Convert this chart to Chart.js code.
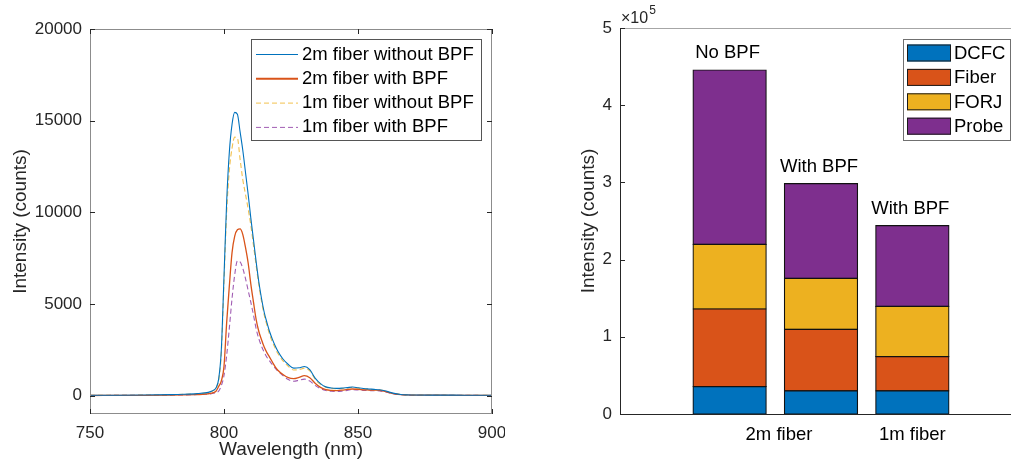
<!DOCTYPE html>
<html>
<head>
<meta charset="utf-8">
<script src="https://cdn.jsdelivr.net/npm/chart.js@4.4.1/dist/chart.umd.min.js"></script>
<style>
  html, body { margin: 0; padding: 0; background: #ffffff; }
  body { width: 1011px; height: 463px; position: relative; overflow: hidden; }
  #spectrumBox { position: absolute; left: 0; top: 0; width: 505px; height: 463px; }
  #stackBox { position: absolute; left: 560px; top: 0; width: 451px; height: 463px; }
</style>
</head>
<body>
<div id="spectrumBox"><canvas id="spectrumGraph" width="505" height="463"></canvas></div>
<div id="stackBox"><canvas id="stackGraph" width="451" height="463"></canvas></div>
<script>
// ---- left panel: emission spectra ----
const wavelengths = [750, 760, 770, 780, 785, 790, 793, 795, 796, 797, 798, 799,
    800, 801, 802, 803, 804, 805, 806, 807, 808, 809, 810, 811, 812, 813, 814, 815, 816, 817, 818, 819, 820,
    822, 824, 826, 828, 830, 832, 834, 836, 838, 840, 842, 844, 846, 848, 850, 852, 854, 856, 858, 860, 862, 864, 866, 868, 870,
    880, 890, 900];
const fiber2mNoBpf = [20, 25, 35, 55, 75, 110, 150, 220, 290, 420, 900, 2500,
    6500, 10600, 13300, 14800, 15450, 15350, 14400, 13400, 12200, 11000, 9700, 8500, 7300, 6200, 5300, 4550, 4000, 3500, 3100, 2750, 2450,
    2000, 1700, 1500, 1520, 1590, 1420, 960, 660, 480, 420, 400, 410, 440, 470, 430, 390, 365, 345, 320, 270, 180, 110, 65, 45, 38,
    30, 25, 20];
const fiber2mBpf = [10, 15, 20, 30, 40, 60, 80, 120, 170, 240, 500, 800,
    1600, 4000, 6000, 7800, 8700, 9050, 9100, 8800, 8100, 7250, 6100, 5100, 4150, 3500, 3050, 2650, 2350, 2100, 1850, 1600, 1400,
    1150, 980, 930, 1000, 1090, 980, 680, 450, 330, 290, 280, 300, 340, 365, 340, 320, 310, 300, 290, 230, 150, 90, 55, 40, 30,
    25, 20, 15];
const fiber1mNoBpf = [18, 22, 30, 50, 70, 100, 140, 210, 280, 400, 850, 2300,
    6200, 10000, 12300, 13500, 14100, 14050, 12900, 11800, 11000, 10200, 9300, 8200, 7100, 6050, 5150, 4400, 3850, 3350, 2950, 2620, 2330,
    1900, 1600, 1400, 1420, 1500, 1350, 900, 620, 460, 400, 380, 390, 420, 450, 410, 370, 345, 330, 305, 255, 170, 105, 62, 43, 35,
    28, 23, 18];
const fiber1mBpf = [10, 15, 20, 30, 40, 60, 75, 100, 130, 160, 250, 550,
    1100, 2200, 3700, 5300, 6600, 7350, 7300, 6950, 6400, 5750, 5100, 4400, 3650, 3100, 2700, 2370, 2100, 1900, 1700, 1520, 1350,
    1100, 880, 790, 840, 900, 800, 560, 380, 280, 240, 230, 250, 290, 330, 310, 290, 280, 270, 260, 210, 140, 85, 50, 35, 25,
    20, 15, 12];
const spectrumLabels = ["2m fiber without BPF", "2m fiber with BPF", "1m fiber without BPF", "1m fiber with BPF"];
const wavelengthTicks = [750, 800, 850, 900];
const intensityTicks = [0, 5000, 10000, 15000, 20000];

// ---- right panel: stacked contributions ----
const barPositions = [1, 2, 3];
const barNotes = ["No BPF", "With BPF", "With BPF"];
const componentLabels = ["DCFC", "Fiber", "FORJ", "Probe"];
const dcfcCounts = [35400, 30000, 30000];
const fiberCounts = [100600, 79700, 44200];
const forjCounts = [83800, 66000, 65300];
const probeCounts = [225800, 122600, 104500];
const groupTickPositions = [1.54, 3];
const groupTickLabels = ["2m fiber", "1m fiber"];
const countTicks = [0, 100000, 200000, 300000, 400000, 500000];

const FONT = "'Liberation Sans', Arial, sans-serif";
const INK = "#262626";
Chart.defaults.font.family = FONT;
Chart.defaults.color = INK;

function font_str(size) { return size + "px " + FONT; }

// keep the horizontal axis from reserving room for overhanging labels
function _no_side_padding(s) { s.paddingLeft = 0; s.paddingRight = 0; }

// MATLAB style box with inward ticks + legend inside the axes
const spectrumDecor = {
    id: "spectrumDecor",
    afterDatasetsDraw(chart) {
        const { ctx, chartArea: a, scales: { x, y } } = chart;
        ctx.save();
        ctx.lineWidth = 1;
        ctx.strokeStyle = "#8c8c8c";
        ctx.strokeRect(a.left + 0.5, a.top + 0.5, a.width - 1, a.height - 1);
        ctx.strokeStyle = INK;
        ctx.beginPath();
        wavelengthTicks.forEach(v => {
            const px = Math.round(x.getPixelForValue(v)) + 0.5;
            ctx.moveTo(px, a.bottom); ctx.lineTo(px, a.bottom - 5);
            ctx.moveTo(px, a.top); ctx.lineTo(px, a.top + 5);
        });
        intensityTicks.forEach(v => {
            const py = Math.round(y.getPixelForValue(v)) + 0.5;
            ctx.moveTo(a.left, py); ctx.lineTo(a.left + 5, py);
            ctx.moveTo(a.right, py); ctx.lineTo(a.right - 5, py);
        });
        ctx.stroke();

        // legend
        const bx = a.right - 241, by = a.top + 10, bw = 230, bh = 101;
        ctx.fillStyle = "#ffffff";
        ctx.fillRect(bx, by, bw, bh);
        ctx.strokeStyle = "#555555";
        ctx.strokeRect(bx + 0.5, by + 0.5, bw, bh);
        ctx.font = font_str(18.5);
        ctx.textBaseline = "middle";
        chart.data.datasets.forEach((ds, i) => {
            const cy = by + 15.5 + i * 24.3;
            ctx.strokeStyle = ds.borderColor;
            ctx.lineWidth = i === 1 ? 2 : 1;
            ctx.setLineDash(ds.borderDash || []);
            ctx.beginPath();
            ctx.moveTo(bx + 5, cy); ctx.lineTo(bx + 47, cy);
            ctx.stroke();
            ctx.setLineDash([]);
            ctx.fillStyle = "#000000";
            ctx.fillText(ds.label, bx + 51, cy);
        });
        ctx.restore();
    }
};

// build config for spectrum line graph
function _build_spectrum_config() {
    const series = [fiber2mNoBpf, fiber2mBpf, fiber1mNoBpf, fiber1mBpf];
    const colors = ["#0072BD", "#D95319", "#F2C14E", "#A15DB3"];
    const dashes = [[], [], [5, 3], [5, 3]];
    const widths = [1.1, 1.3, 1.1, 1.1];
    const datasets = series.map((vals, i) => ({
        label: spectrumLabels[i],
        data: vals.map((v, j) => ({ x: wavelengths[j], y: v })),
        borderColor: colors[i],
        borderDash: dashes[i],
        borderWidth: widths[i],
        pointRadius: 0,
        fill: false,
        cubicInterpolationMode: "monotone",
    }));
    return {
        type: "line",
        data: { datasets: datasets },
        options: {
            responsive: false,
            animation: false,
            layout: { padding: { top: 29, right: 13, left: 0, bottom: 0 } },
            plugins: { legend: { display: false }, tooltip: { enabled: false } },
            scales: {
                x: {
                    type: "linear", min: 750, max: 900,
                    afterBuildTicks: s => { s.ticks = wavelengthTicks.map(v => ({ value: v })); },
                    afterFit: s => { s.height = 49; _no_side_padding(s); },
                    grid: { display: false, drawTicks: false },
                    border: { display: false },
                    ticks: { padding: 9, font: { size: 17 }, color: INK, maxRotation: 0 },
                    title: { display: true, text: "Wavelength (nm)", font: { size: 19 }, color: INK, padding: { top: 0, bottom: 2 } },
                },
                y: {
                    type: "linear", min: -1000, max: 20000,
                    afterBuildTicks: s => { s.ticks = intensityTicks.map(v => ({ value: v })); },
                    afterFit: s => { s.width = 90; },
                    grid: { display: false, drawTicks: false },
                    border: { display: false },
                    ticks: { padding: 8, font: { size: 17 }, color: INK, callback: v => String(v) },
                    title: { display: true, text: "Intensity (counts)", font: { size: 19 }, color: INK, padding: { top: 9, bottom: 0 } },
                },
            },
        },
        plugins: [spectrumDecor],
    };
}

// axes lines, x10^5 marker, notes above bars and legend
const stackDecor = {
    id: "stackDecor",
    afterDatasetsDraw(chart) {
        const { ctx, chartArea: a, scales: { x, y } } = chart;
        ctx.save();
        ctx.lineWidth = 1;
        ctx.strokeStyle = "#a6a6a6";
        ctx.beginPath();
        ctx.moveTo(a.left, a.top + 0.5); ctx.lineTo(a.right, a.top + 0.5);
        ctx.stroke();
        ctx.strokeStyle = INK;
        ctx.beginPath();
        ctx.moveTo(a.left + 0.5, a.top); ctx.lineTo(a.left + 0.5, a.bottom + 0.5);
        ctx.lineTo(a.right, a.bottom + 0.5);
        countTicks.forEach(v => {
            const py = Math.round(y.getPixelForValue(v)) + 0.5;
            ctx.moveTo(a.left, py); ctx.lineTo(a.left + 5, py);
        });
        ctx.stroke();

        // exponent marker
        ctx.fillStyle = INK;
        ctx.textBaseline = "alphabetic";
        ctx.font = font_str(16);
        ctx.fillText("\u00d710", a.left + 1, a.top - 5);
        const w = ctx.measureText("\u00d710").width;
        ctx.font = font_str(12);
        ctx.fillText("5", a.left + 1 + w + 1, a.top - 14);

        // notes above each bar
        ctx.fillStyle = "#000000";
        ctx.font = font_str(18.5);
        ctx.textAlign = "center";
        ctx.textBaseline = "middle";
        barPositions.forEach((p, i) => {
            const total = dcfcCounts[i] + fiberCounts[i] + forjCounts[i] + probeCounts[i];
            ctx.fillText(barNotes[i], x.getPixelForValue(p) - 2, y.getPixelForValue(total) - 17);
        });

        // legend
        const bx = a.right - 108, by = a.top + 11, bw = 108, bh = 101;
        ctx.fillStyle = "#ffffff";
        ctx.fillRect(bx, by, bw, bh);
        ctx.strokeStyle = "#707070";
        ctx.strokeRect(bx + 0.5, by + 0.5, bw - 1, bh);
        ctx.textAlign = "left";
        chart.data.datasets.forEach((ds, i) => {
            const cy = by + 14 + i * 24.4;
            ctx.fillStyle = ds.backgroundColor;
            ctx.fillRect(bx + 4, cy - 8.5, 44, 17);
            ctx.strokeStyle = "#1a1a1a";
            ctx.strokeRect(bx + 4.5, cy - 8, 43, 16);
            ctx.fillStyle = "#000000";
            ctx.fillText(ds.label, bx + 51, cy + 1);
        });
        ctx.restore();
    }
};

// build config for stacked bar graph
function _build_stack_config() {
    const parts = [dcfcCounts, fiberCounts, forjCounts, probeCounts];
    const colors = ["#0072BD", "#D95319", "#EDB120", "#7E2F8E"];
    const datasets = parts.map((vals, i) => ({
        label: componentLabels[i],
        data: vals.map((v, j) => ({ x: barPositions[j], y: v })),
        backgroundColor: colors[i],
        borderColor: "#111111",
        borderWidth: 1.2,
        borderSkipped: false,
        inflateAmount: 0.6,
        barPercentage: 0.8,
        categoryPercentage: 1.0,
    }));
    return {
        type: "bar",
        data: { datasets: datasets },
        options: {
            responsive: false,
            animation: false,
            layout: { padding: { top: 28, right: 0, left: 0, bottom: 0 } },
            plugins: { legend: { display: false }, tooltip: { enabled: false } },
            scales: {
                x: {
                    type: "linear", min: -0.2, max: 4.08, stacked: true, offset: false,
                    afterBuildTicks: s => { s.ticks = groupTickPositions.map(v => ({ value: v })); },
                    afterFit: s => { s.height = 49; _no_side_padding(s); },
                    grid: { display: false, drawTicks: false },
                    border: { display: false },
                    ticks: {
                        padding: 10, font: { size: 18.5 }, color: "#000000", maxRotation: 0,
                        callback: (v, idx) => groupTickLabels[idx],
                    },
                },
                y: {
                    type: "linear", min: 0, max: 500000, stacked: true,
                    afterBuildTicks: s => { s.ticks = countTicks.map(v => ({ value: v })); },
                    afterFit: s => { s.width = 60; },
                    grid: { display: false, drawTicks: false },
                    border: { display: false },
                    ticks: { padding: 8, font: { size: 17 }, color: INK, callback: v => String(v / 100000) },
                    title: { display: true, text: "Intensity (counts)", font: { size: 19 }, color: INK, padding: { top: 17, bottom: 0 } },
                },
            },
        },
        plugins: [stackDecor],
    };
}

function create_spectrum_graph() {
    console.log("creating_spectrum_graph");
    return new Chart("spectrumGraph", _build_spectrum_config());
}

function create_stack_graph() {
    console.log("creating_stack_graph");
    return new Chart("stackGraph", _build_stack_config());
}

create_spectrum_graph();
create_stack_graph();
</script>
</body>
</html>
